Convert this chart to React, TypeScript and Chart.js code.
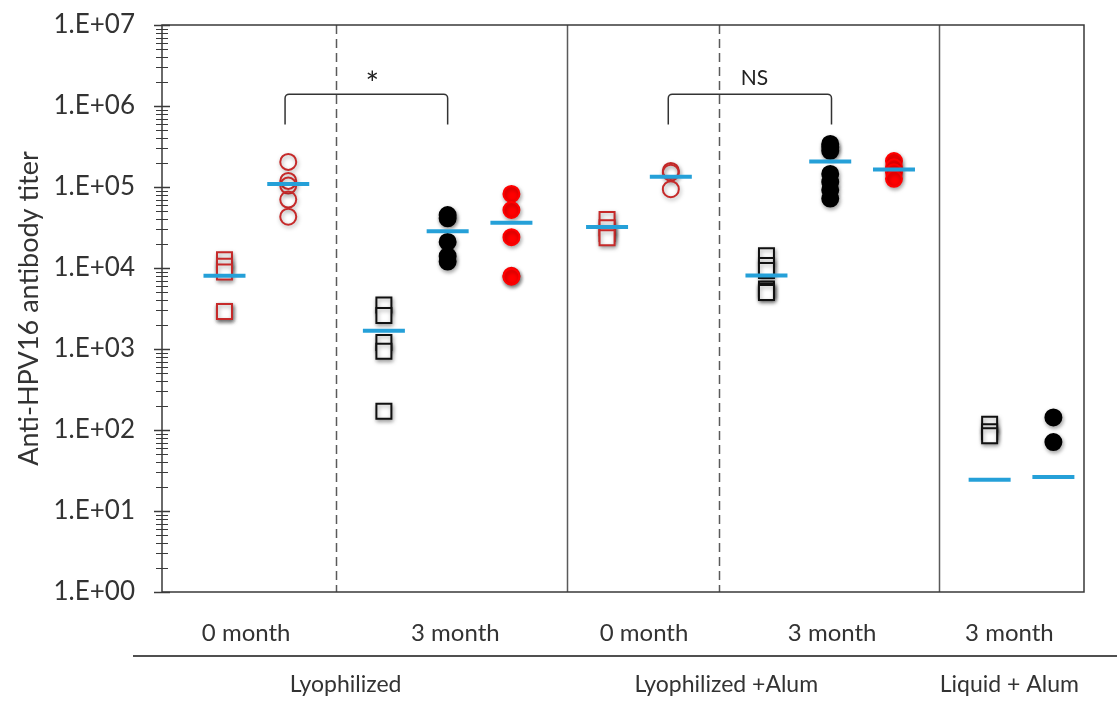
import React, { useEffect, useRef } from 'react';
import { Chart, registerables } from 'chart.js';

Chart.register(...registerables);

const FONT = 'Lato, "Open Sans", sans-serif';
const TEXT = '#333333';
const AXIS = '#3a3a3a';

// x positions of each column of points
const colX = [1, 2, 3.5, 4.5, 5.5, 7, 8, 9.5, 10.5, 11.5, 13, 14];

// titers (one array per column)
const lyo0Squares = [12600, 10500, 8900, 2900, 2900];
const lyo0Circles = [204000, 119000, 104000, 70000, 43000];
const lyo3Squares = [3500, 2600, 1200, 940, 170];
const lyo3Circles = [45000, 41000, 21000, 14000, 12000];
const lyo3Red = [82000, 52000, 24000, 8000, 7800];
const alum0Squares = [39800, 31500, 26600, 23600];
const alum0Circles = [158000, 150000, 94000];
const alum3Squares = [14200, 10700, 9300, 5500, 5200, 5000];
const alum3Circles = [340000, 310000, 280000, 145000, 115000, 92000, 72000];
const alum3Red = [209000, 175000, 152000, 126000];
const liqSquares = [118, 95, 85];
const liqCircles = [143, 71];
// mean bars, one per column
const groupMeans = [8000, 108800, 1675, 28400, 36300, 32100, 133600, 8100, 206000, 164500, 24.3, 26.2];

const monthLabels = ['0 month', '3 month', '0 month', '3 month', '3 month'];
const monthLabelX = [1.34, 4.62, 7.58, 10.53, 13.31];
const groupLabels = ['Lyophilized', 'Lyophilized +Alum', 'Liquid + Alum'];
const groupLabelX = [2.9, 8.87, 13.31];
const dashedDividerX = [2.75, 8.75];
const solidDividerX = [6.375, 12.2];

const bracketFromX = [1.95, 7.96];
const bracketToX = [4.5, 10.52];
const bracketTop = 1.4e6;
const bracketFoot = 5.9e5;
const bracketText = ['*', 'NS'];
const bracketTextX = [3.32, 9.31];
const bracketTextY = [2.4e6, 2.24e6];

const yTitle = 'Anti-HPV16 antibody titer';

const RED_OPEN = '#c62a2a';
const RED_FILL = '#ff0000';
const MEAN = '#25a0d8';

function pts(col: number, vals: number[]) {
  return vals.map((v) => ({ x: colX[col], y: v }));
}

function markerSet(col: number, vals: number[], style: string, border: string, fill: string) {
  const isRect = style === 'rect';
  return {
    data: pts(col, vals),
    pointStyle: style,
    pointRadius: isRect ? 10.6 : 8,
    pointBorderWidth: 2,
    pointBorderColor: border,
    pointBackgroundColor: fill,
    borderColor: border,
    backgroundColor: fill,
    showLine: false,
    order: 1,
    shadow: true,
  };
}

const decorPlugin = {
  id: 'decor',
  beforeDatasetsDraw(chart: any) {
    const { ctx, chartArea } = chart;
    const x = chart.scales.x;
    ctx.save();
    ctx.strokeStyle = '#5a5a5a';
    ctx.lineWidth = 1.5;
    ctx.setLineDash([9, 5]);
    dashedDividerX.forEach((v) => {
      const px = Math.round(x.getPixelForValue(v)) + 0.5;
      ctx.beginPath();
      ctx.moveTo(px, chartArea.top);
      ctx.lineTo(px, chartArea.bottom);
      ctx.stroke();
    });
    ctx.setLineDash([]);
    solidDividerX.forEach((v) => {
      const px = Math.round(x.getPixelForValue(v)) + 0.5;
      ctx.beginPath();
      ctx.moveTo(px, chartArea.top);
      ctx.lineTo(px, chartArea.bottom);
      ctx.stroke();
    });
    ctx.restore();
  },
  beforeDatasetDraw(chart: any, args: any) {
    const ds = chart.data.datasets[args.index];
    const ctx = chart.ctx;
    ctx.save();
    if (ds.shadow) {
      ctx.shadowColor = 'rgba(0,0,0,0.35)';
      ctx.shadowBlur = 4;
      ctx.shadowOffsetX = 1;
      ctx.shadowOffsetY = 2;
    }
  },
  afterDatasetDraw(chart: any) {
    chart.ctx.restore();
  },
  afterDraw(chart: any) {
    const { ctx, chartArea } = chart;
    const x = chart.scales.x;
    const y = chart.scales.y;
    const { left, right, top, bottom } = chartArea;
    ctx.save();
    // plot box
    ctx.strokeStyle = AXIS;
    ctx.lineWidth = 1.5;
    ctx.beginPath();
    ctx.rect(left, top, right - left, bottom - top);
    ctx.stroke();
    // y ticks (major and minor, crossing the axis)
    for (let e = 0; e <= 7; e++) {
      for (let m = 1; m < 10; m++) {
        const v = m * Math.pow(10, e);
        if (v > 1e7) break;
        const py = Math.round(y.getPixelForValue(v)) + 0.5;
        const major = m === 1;
        ctx.lineWidth = major ? 1.5 : 1;
        ctx.beginPath();
        ctx.moveTo(left - (major ? 8 : 6), py);
        ctx.lineTo(left + (major ? 8 : 6), py);
        ctx.stroke();
      }
    }
    // brackets
    ctx.strokeStyle = '#333';
    ctx.lineWidth = 1.5;
    const r = 4;
    for (let i = 0; i < bracketFromX.length; i++) {
      const x0 = x.getPixelForValue(bracketFromX[i]);
      const x1 = x.getPixelForValue(bracketToX[i]);
      const yt = y.getPixelForValue(bracketTop);
      const yf = y.getPixelForValue(bracketFoot);
      ctx.beginPath();
      ctx.moveTo(x0, yf);
      ctx.arcTo(x0, yt, x1, yt, r);
      ctx.arcTo(x1, yt, x1, yf, r);
      ctx.lineTo(x1, yf);
      ctx.stroke();
      ctx.fillStyle = '#222';
      ctx.font = `${bracketText[i] === '*' ? 32 : 21}px ${FONT}`;
      ctx.textAlign = 'center';
      ctx.textBaseline = 'alphabetic';
      const m = ctx.measureText(bracketText[i]);
      const cy = y.getPixelForValue(bracketTextY[i]);
      const off = (m.actualBoundingBoxAscent - m.actualBoundingBoxDescent) / 2;
      ctx.fillText(bracketText[i], x.getPixelForValue(bracketTextX[i]), cy + off);
    }
    // separator line under month labels
    ctx.strokeStyle = '#505050';
    ctx.lineWidth = 2;
    ctx.beginPath();
    ctx.moveTo(133, 656);
    ctx.lineTo(chart.width, 656);
    ctx.stroke();
    // group labels
    ctx.fillStyle = TEXT;
    ctx.font = `23px ${FONT}`;
    ctx.textAlign = 'center';
    ctx.textBaseline = 'alphabetic';
    groupLabels.forEach((t, i) => {
      ctx.fillText(t, x.getPixelForValue(groupLabelX[i]), 692);
    });
    ctx.restore();
  },
};

export default function App() {
  const ref = useRef<HTMLCanvasElement | null>(null);

  useEffect(() => {
    if (!ref.current) return;
    const datasets: any[] = [
      {
        data: groupMeans.map((v, i) => ({ x: colX[i], y: v })),
        pointStyle: 'line',
        pointRadius: 21,
        pointBorderWidth: 4,
        pointBorderColor: MEAN,
        pointBackgroundColor: MEAN,
        borderColor: MEAN,
        backgroundColor: MEAN,
        showLine: false,
        order: 0,
        shadow: false,
      },
      markerSet(0, lyo0Squares, 'rect', RED_OPEN, '#ffffff'),
      markerSet(1, lyo0Circles, 'circle', RED_OPEN, 'rgba(255,255,255,0)'),
      markerSet(2, lyo3Squares, 'rect', '#111111', '#ffffff'),
      markerSet(3, lyo3Circles, 'circle', '#000000', '#000000'),
      markerSet(4, lyo3Red, 'circle', RED_FILL, RED_FILL),
      markerSet(5, alum0Squares, 'rect', RED_OPEN, '#ffffff'),
      markerSet(6, alum0Circles, 'circle', RED_OPEN, 'rgba(255,255,255,0)'),
      markerSet(7, alum3Squares, 'rect', '#111111', '#ffffff'),
      markerSet(8, alum3Circles, 'circle', '#000000', '#000000'),
      markerSet(9, alum3Red, 'circle', RED_FILL, RED_FILL),
      markerSet(10, liqSquares, 'rect', '#111111', '#ffffff'),
      markerSet(11, liqCircles, 'circle', '#000000', '#000000'),
    ];

    const chart = new Chart(ref.current, {
      type: 'scatter',
      data: { datasets },
      plugins: [decorPlugin],
      options: {
        animation: false,
        responsive: false,
        events: [],
        layout: { padding: { top: 19, right: 33, left: 0, bottom: 0 } },
        plugins: { legend: { display: false }, tooltip: { enabled: false } },
        scales: {
          x: {
            type: 'linear',
            min: 0.02,
            max: 14.48,
            grid: { display: false },
            border: { display: false },
            afterBuildTicks: (s: any) => {
              s.ticks = monthLabelX.map((v) => ({ value: v }));
            },
            afterFit: (s: any) => {
              s.height = 112;
              s.paddingLeft = 0;
              s.paddingRight = 0;
            },
            ticks: {
              autoSkip: false,
              maxRotation: 0,
              minRotation: 0,
              padding: 19,
              color: TEXT,
              font: { family: FONT, size: 24 },
              callback: (_v: any, i: number) => monthLabels[i],
            },
          },
          y: {
            type: 'logarithmic',
            min: 1,
            max: 1e7,
            grid: { display: false },
            border: { display: false },
            afterBuildTicks: (s: any) => {
              const t: any[] = [];
              for (let e = 0; e < 7; e++) {
                for (let m = 1; m < 10; m++) t.push({ value: m * Math.pow(10, e) });
              }
              t.push({ value: 1e7 });
              s.ticks = t;
            },
            afterFit: (s: any) => {
              s.width = 162;
              s.paddingTop = 0;
              s.paddingBottom = 0;
            },
            ticks: {
              autoSkip: false,
              padding: 19,
              color: TEXT,
              font: { family: FONT, size: 26 },
              callback: (v: any) => {
                const l = Math.log10(Number(v));
                const r = Math.round(l);
                return Math.abs(l - r) < 1e-9 ? `1.E+${String(r).padStart(2, '0')}` : '';
              },
            },
            title: {
              display: true,
              text: yTitle,
              color: TEXT,
              font: { family: FONT, size: 27 },
              padding: { top: 13, bottom: 0 },
            },
          },
        },
      } as any,
    });
    return () => chart.destroy();
  }, []);

  return (
    <div style={{ position: 'fixed', left: 0, top: 0, width: 1117, height: 704, background: '#fff' }}>
      <canvas ref={ref} width={1117} height={704} style={{ display: 'block' }} />
    </div>
  );
}
